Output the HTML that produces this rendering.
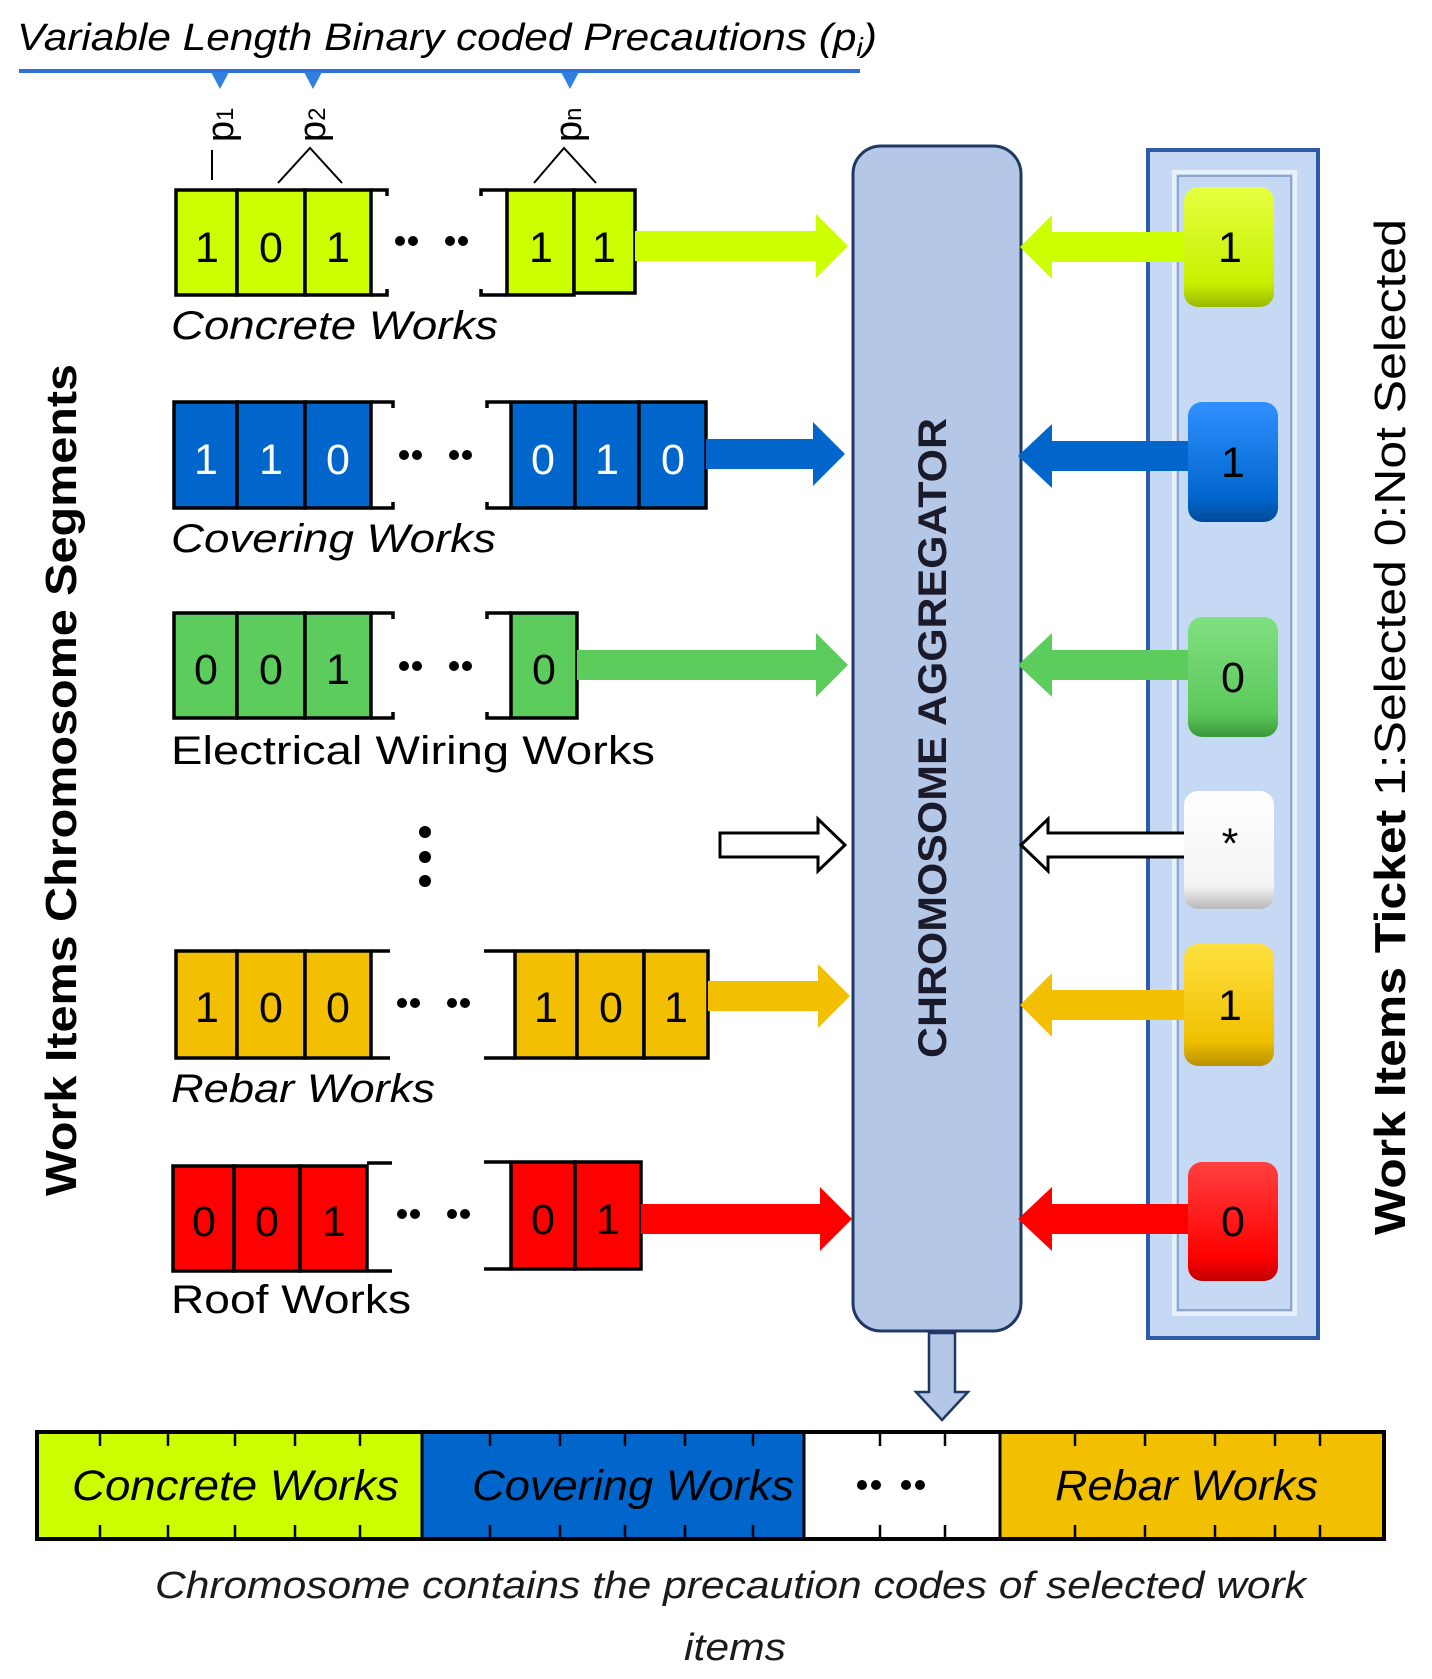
<!DOCTYPE html>
<html><head><meta charset="utf-8"><style>
html,body{margin:0;padding:0;background:#fff}
svg{display:block}
text{font-family:"Liberation Sans",sans-serif}
</style></head><body>
<svg width="1432" height="1679" viewBox="0 0 1432 1679" xmlns="http://www.w3.org/2000/svg">
<defs>
<linearGradient id="gy" x1="0" y1="0" x2="0" y2="1"><stop offset="0" stop-color="#e6ff40"/><stop offset="0.8" stop-color="#c8f000"/><stop offset="1" stop-color="#9ab800"/></linearGradient>
<linearGradient id="gb" x1="0" y1="0" x2="0" y2="1"><stop offset="0" stop-color="#3090ff"/><stop offset="0.8" stop-color="#0066cc"/><stop offset="1" stop-color="#004a99"/></linearGradient>
<linearGradient id="gg" x1="0" y1="0" x2="0" y2="1"><stop offset="0" stop-color="#80e080"/><stop offset="0.8" stop-color="#5cc85c"/><stop offset="1" stop-color="#3a9a3a"/></linearGradient>
<linearGradient id="gw" x1="0" y1="0" x2="0" y2="1"><stop offset="0" stop-color="#ffffff"/><stop offset="0.8" stop-color="#f4f4f4"/><stop offset="1" stop-color="#b8b8b8"/></linearGradient>
<linearGradient id="go" x1="0" y1="0" x2="0" y2="1"><stop offset="0" stop-color="#ffe040"/><stop offset="0.8" stop-color="#f0c000"/><stop offset="1" stop-color="#b89000"/></linearGradient>
<linearGradient id="gr" x1="0" y1="0" x2="0" y2="1"><stop offset="0" stop-color="#ff4040"/><stop offset="0.8" stop-color="#ff0000"/><stop offset="1" stop-color="#c00000"/></linearGradient>
</defs>

<text x="17" y="50" font-size="38" font-style="italic" textLength="860" lengthAdjust="spacingAndGlyphs">Variable Length Binary coded Precautions (p<tspan font-size="26" dy="6">i</tspan><tspan dy="-6">)</tspan></text>
<line x1="19" y1="71" x2="860" y2="71" stroke="#2f6fd8" stroke-width="4"/>
<polygon points="211,72 229,72 220,89" fill="#2f80e0"/>
<polygon points="304,72 322,72 313,89" fill="#2f80e0"/>
<polygon points="561,72 579,72 570,89" fill="#2f80e0"/>
<text transform="translate(233,142) rotate(-90)" font-size="38">p<tspan font-size="24">1</tspan></text>
<text transform="translate(325,142) rotate(-90)" font-size="38">p<tspan font-size="24">2</tspan></text>
<text transform="translate(581,142) rotate(-90)" font-size="38">p<tspan font-size="24">n</tspan></text>
<g stroke="#000" stroke-width="2" fill="none">
<line x1="212" y1="150" x2="212" y2="180"/>
<polyline points="278,183 310,148 342,183"/>
<polyline points="534,183 564,148 596,183"/>
</g>

<g stroke="#000" stroke-width="3.5" font-size="43" text-anchor="middle">
<g fill="#ccff00">
<rect x="176" y="190" width="61" height="105"/><rect x="237" y="190" width="68" height="105"/><rect x="305" y="190" width="66" height="105"/>
<rect x="507" y="190" width="67" height="105"/><rect x="574" y="190" width="61" height="103"/>
</g>
<polyline fill="none" points="371,190 387,190 387,196"/><polyline fill="none" points="371,295 387,295 387,289"/>
<polyline fill="none" points="507,190 481,190 481,196"/><polyline fill="none" points="507,295 481,295 481,289"/>
<g fill="#0066cc">
<rect x="174" y="402" width="63" height="106"/><rect x="237" y="402" width="68" height="106"/><rect x="305" y="402" width="66" height="106"/>
<rect x="511" y="402" width="64" height="106"/><rect x="575" y="402" width="64" height="106"/><rect x="639" y="402" width="67" height="106"/>
</g>
<polyline fill="none" points="371,402 393,402 393,408"/><polyline fill="none" points="371,508 393,508 393,502"/>
<polyline fill="none" points="511,402 487,402 487,408"/><polyline fill="none" points="511,508 487,508 487,502"/>
<g fill="#5ccc5c">
<rect x="174" y="613" width="63" height="105"/><rect x="237" y="613" width="68" height="105"/><rect x="305" y="613" width="66" height="105"/>
<rect x="511" y="613" width="66" height="105"/>
</g>
<polyline fill="none" points="371,613 393,613 393,619"/><polyline fill="none" points="371,718 393,718 393,712"/>
<polyline fill="none" points="511,613 487,613 487,619"/><polyline fill="none" points="511,718 487,718 487,712"/>
<g fill="#f2c000">
<rect x="176" y="951" width="61" height="107"/><rect x="237" y="951" width="68" height="107"/><rect x="305" y="951" width="66" height="107"/>
<rect x="515" y="951" width="62" height="107"/><rect x="577" y="951" width="67" height="107"/><rect x="644" y="951" width="64" height="107"/>
</g>
<polyline fill="none" points="371,951 390,951"/><polyline fill="none" points="371,1058 390,1058"/>
<polyline fill="none" points="515,951 484,951"/><polyline fill="none" points="515,1058 484,1058"/>
<g fill="#ff0000">
<rect x="173" y="1166" width="61" height="105"/><rect x="234" y="1166" width="66" height="105"/><rect x="300" y="1166" width="67" height="105"/>
<rect x="511" y="1162" width="64" height="107"/><rect x="575" y="1162" width="66" height="107"/>
</g>
<polyline fill="none" points="367,1163 392,1163"/><polyline fill="none" points="367,1271 392,1271"/>
<polyline fill="none" points="511,1162 484,1162"/><polyline fill="none" points="511,1269 484,1269"/>
</g>

<g font-size="43" text-anchor="middle" fill="#000">
<text x="207" y="262">1</text><text x="271" y="262">0</text><text x="338" y="262">1</text><text x="541" y="262">1</text><text x="604" y="262">1</text>
<g fill="#fff"><text x="206" y="474">1</text><text x="271" y="474">1</text><text x="338" y="474">0</text><text x="543" y="474">0</text><text x="607" y="474">1</text><text x="673" y="474">0</text></g>
<text x="206" y="684">0</text><text x="271" y="684">0</text><text x="338" y="684">1</text><text x="544" y="684">0</text>
<text x="207" y="1022">1</text><text x="271" y="1022">0</text><text x="338" y="1022">0</text><text x="546" y="1022">1</text><text x="611" y="1022">0</text><text x="676" y="1022">1</text>
<text x="204" y="1236">0</text><text x="267" y="1236">0</text><text x="334" y="1236">1</text><text x="543" y="1234">0</text><text x="608" y="1234">1</text>
</g>
<g fill="#000">
<circle cx="400" cy="241" r="5"/><circle cx="413" cy="241" r="5"/><circle cx="450" cy="241" r="5"/><circle cx="463" cy="241" r="5"/>
<circle cx="404" cy="455" r="5"/><circle cx="417" cy="455" r="5"/><circle cx="454" cy="455" r="5"/><circle cx="467" cy="455" r="5"/>
<circle cx="404" cy="666" r="5"/><circle cx="417" cy="666" r="5"/><circle cx="454" cy="666" r="5"/><circle cx="467" cy="666" r="5"/>
<circle cx="402" cy="1003" r="5"/><circle cx="415" cy="1003" r="5"/><circle cx="452" cy="1003" r="5"/><circle cx="465" cy="1003" r="5"/>
<circle cx="402" cy="1214" r="5"/><circle cx="415" cy="1214" r="5"/><circle cx="452" cy="1214" r="5"/><circle cx="465" cy="1214" r="5"/>
<circle cx="425" cy="832" r="6"/><circle cx="425" cy="857" r="6"/><circle cx="425" cy="881" r="6"/>
</g>
<g font-size="40">
<text x="171" y="339" font-style="italic" textLength="327" lengthAdjust="spacingAndGlyphs">Concrete Works</text>
<text x="171" y="552" font-style="italic" textLength="325" lengthAdjust="spacingAndGlyphs">Covering Works</text>
<text x="171" y="764" textLength="484" lengthAdjust="spacingAndGlyphs">Electrical Wiring Works</text>
<text x="171" y="1102" font-style="italic" textLength="264" lengthAdjust="spacingAndGlyphs">Rebar Works</text>
<text x="171" y="1313" textLength="240" lengthAdjust="spacingAndGlyphs">Roof Works</text>
</g>

<polygon points="635,231 816,231 816,214 848,246 816,278 816,261 635,261" fill="#ccff00"/>
<polygon points="706,439 813,439 813,422 845,454 813,486 813,469 706,469" fill="#0066cc"/>
<polygon points="577,650 816,650 816,633 848,665 816,697 816,680 577,680" fill="#5ccc5c"/>
<polygon points="720,833 818,833 818,819 845,845 818,871 818,857 720,857" fill="#fff" stroke="#000" stroke-width="3"/>
<polygon points="708,981 818,981 818,964 850,996 818,1028 818,1011 708,1011" fill="#f2c000"/>
<polygon points="641,1204 820,1204 820,1187 852,1219 820,1251 820,1234 641,1234" fill="#ff0000"/>

<rect x="853" y="146" width="168" height="1185" rx="28" fill="#b4c7e7" stroke="#1f3864" stroke-width="3"/>
<text transform="translate(946,738) rotate(-90)" font-size="40" font-weight="bold" text-anchor="middle" fill="#1a1a2a" textLength="640" lengthAdjust="spacingAndGlyphs">CHROMOSOME AGGREGATOR</text>

<polygon points="929,1333 955,1333 955,1392 968,1392 942,1420 916,1392 929,1392" fill="#b4c7e7" stroke="#1f3864" stroke-width="2.5"/>

<rect x="1148" y="150" width="170" height="1188" fill="#c5d9f5" stroke="#2f5aa8" stroke-width="4"/>
<rect x="1174" y="172" width="121" height="1142" fill="none" stroke="#e8f0fc" stroke-width="4"/>
<rect x="1178" y="176" width="113" height="1134" fill="none" stroke="#8fa6c8" stroke-width="2"/>

<polygon points="1190,232 1052,232 1052,215 1020,247 1052,279 1052,262 1190,262" fill="#ccff00"/>
<polygon points="1190,441 1052,441 1052,424 1018,456 1052,488 1052,471 1190,471" fill="#0066cc"/>
<polygon points="1190,650 1052,650 1052,633 1018,665 1052,697 1052,680 1190,680" fill="#5ccc5c"/>
<polygon points="1186,833 1048,833 1048,819 1021,845 1048,871 1048,857 1186,857" fill="#fff" stroke="#000" stroke-width="3"/>
<polygon points="1190,990 1052,990 1052,973 1020,1005 1052,1037 1052,1020 1190,1020" fill="#f2c000"/>
<polygon points="1190,1204 1052,1204 1052,1187 1018,1219 1052,1251 1052,1234 1190,1234" fill="#ff0000"/>

<rect x="1184" y="187" width="90" height="120" rx="14" fill="url(#gy)"/>
<rect x="1188" y="402" width="90" height="120" rx="14" fill="url(#gb)"/>
<rect x="1188" y="617" width="90" height="120" rx="14" fill="url(#gg)"/>
<rect x="1184" y="791" width="90" height="118" rx="14" fill="url(#gw)"/>
<rect x="1184" y="944" width="90" height="122" rx="14" fill="url(#go)"/>
<rect x="1188" y="1162" width="90" height="119" rx="14" fill="url(#gr)"/>
<g font-size="43" text-anchor="middle" fill="#000">
<text x="1230" y="262">1</text><text x="1233" y="477">1</text><text x="1233" y="692">0</text><text x="1230" y="858">*</text><text x="1230" y="1020">1</text><text x="1233" y="1236">0</text>
</g>

<text transform="translate(76,780) rotate(-90)" font-size="44" font-weight="bold" text-anchor="middle" textLength="832" lengthAdjust="spacingAndGlyphs">Work Items Chromosome Segments</text>
<text transform="translate(1405,1235) rotate(-90)" font-size="44" textLength="1016" lengthAdjust="spacingAndGlyphs"><tspan font-weight="bold">Work Items Ticket</tspan> 1:Selected 0:Not Selected</text>

<rect x="37" y="1432" width="385" height="107" fill="#ccff00"/>
<rect x="422" y="1432" width="382" height="107" fill="#0066cc"/>
<rect x="804" y="1432" width="196" height="107" fill="#fff"/>
<rect x="1000" y="1432" width="384" height="107" fill="#f2c000"/>
<rect x="37" y="1432" width="1347" height="107" fill="none" stroke="#000" stroke-width="4"/>
<g stroke="#000" stroke-width="3">
<line x1="422" y1="1432" x2="422" y2="1539"/><line x1="804" y1="1432" x2="804" y2="1539"/><line x1="1000" y1="1432" x2="1000" y2="1539"/>
</g>
<g stroke="#000" stroke-width="2.5">
<path d="M100 1432v14M168 1432v14M235 1432v14M295 1432v14M360 1432v14M490 1432v14M560 1432v14M625 1432v14M685 1432v14M753 1432v14M880 1432v14M945 1432v14M1075 1432v14M1145 1432v14M1215 1432v14M1275 1432v14M1320 1432v14"/>
<path d="M100 1539v-14M168 1539v-14M235 1539v-14M295 1539v-14M360 1539v-14M490 1539v-14M560 1539v-14M625 1539v-14M685 1539v-14M753 1539v-14M880 1539v-14M945 1539v-14M1075 1539v-14M1145 1539v-14M1215 1539v-14M1275 1539v-14M1320 1539v-14"/>
</g>
<g font-size="43" font-style="italic">
<text x="72" y="1500" textLength="327" lengthAdjust="spacingAndGlyphs">Concrete Works</text>
<text x="472" y="1500" textLength="322" lengthAdjust="spacingAndGlyphs">Covering Works</text>
<text x="1055" y="1500" textLength="263" lengthAdjust="spacingAndGlyphs">Rebar Works</text>
</g>
<g fill="#000"><circle cx="862" cy="1485" r="5"/><circle cx="876" cy="1485" r="5"/><circle cx="906" cy="1485" r="5"/><circle cx="920" cy="1485" r="5"/></g>

<g font-size="38" font-style="italic" fill="#1a1a1a">
<text x="155" y="1598" textLength="1151" lengthAdjust="spacingAndGlyphs">Chromosome contains the precaution codes of selected work</text>
<text x="684" y="1660" textLength="102" lengthAdjust="spacingAndGlyphs">items</text>
</g>
</svg>
</body></html>
